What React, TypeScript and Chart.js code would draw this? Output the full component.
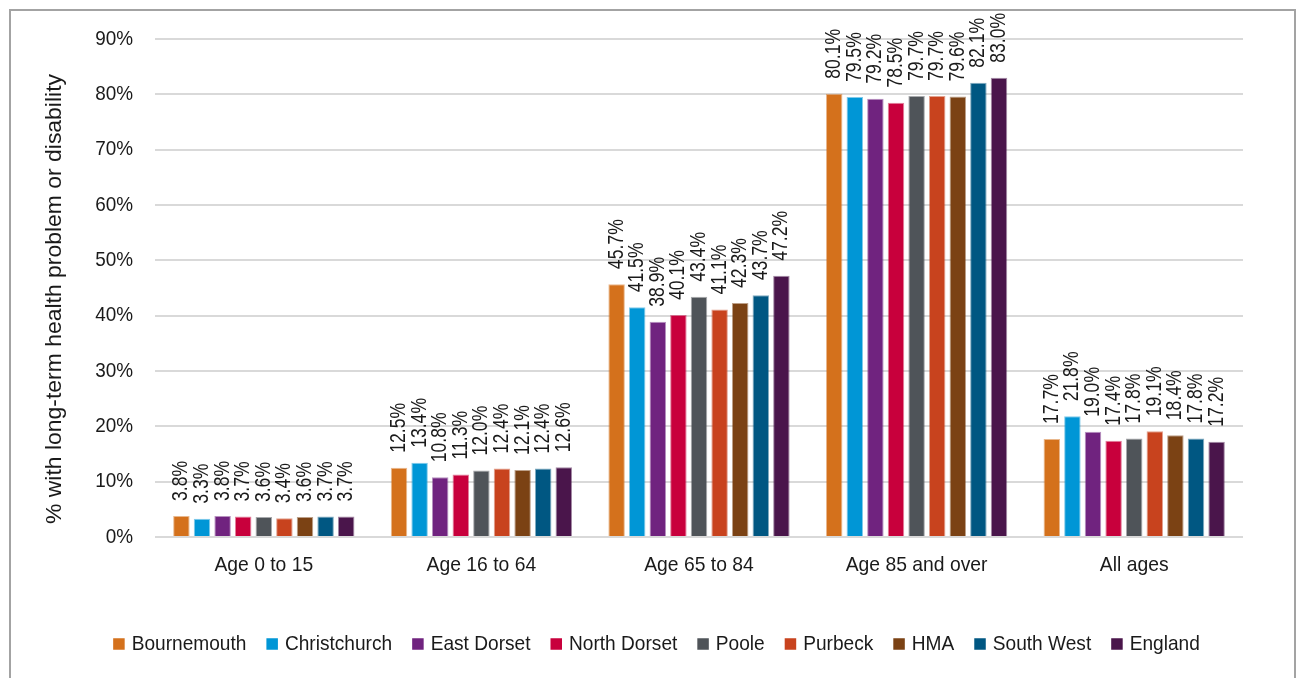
import React, { useEffect, useRef } from "react";
import { Chart, registerables } from "chart.js";

Chart.register(...registerables);

const categories = ["Age 0 to 15", "Age 16 to 64", "Age 65 to 84", "Age 85 and over", "All ages"];
const seriesNames = ["Bournemouth", "Christchurch", "East Dorset", "North Dorset", "Poole", "Purbeck", "HMA", "South West", "England"];
const seriesColors = ["#D4711C", "#0096D6", "#70237F", "#C8003C", "#4F5459", "#C8431E", "#7B4214", "#005782", "#4A154B"];

const bournemouth = [3.8, 12.5, 45.7, 80.1, 17.7];
const christchurch = [3.3, 13.4, 41.5, 79.5, 21.8];
const eastDorset = [3.8, 10.8, 38.9, 79.2, 19.0];
const northDorset = [3.7, 11.3, 40.1, 78.5, 17.4];
const poole = [3.6, 12.0, 43.4, 79.7, 17.8];
const purbeck = [3.4, 12.4, 41.1, 79.7, 19.1];
const hma = [3.6, 12.1, 42.3, 79.6, 18.4];
const southWest = [3.7, 12.4, 43.7, 82.1, 17.8];
const england = [3.7, 12.6, 47.2, 83.0, 17.2];

const seriesValues = [bournemouth, christchurch, eastDorset, northDorset, poole, purbeck, hma, southWest, england];

const yTickValues = [0, 10, 20, 30, 40, 50, 60, 70, 80, 90];
const yTitle = "% with long-term health problem or disability";

const FONT = "'Liberation Sans', Arial, sans-serif";
const TEXT = "#1a1a1a";

function drawText(ctx: any, text: string, x: number, y: number, size: number, align: string, rot: number, sx: number) {
  ctx.save();
  ctx.font = `${size}px ${FONT}`;
  ctx.fillStyle = TEXT;
  ctx.textBaseline = "middle";
  ctx.textAlign = align;
  ctx.translate(x, y);
  if (rot) ctx.rotate(rot);
  ctx.scale(sx, 1);
  ctx.fillText(text, 0, 0);
  ctx.restore();
}

const textPlugin = {
  id: "narrowText",
  afterDatasetsDraw(chart: any) {
    const ctx = chart.ctx;
    const xs = chart.scales.x;
    const ys = chart.scales.y;
    const area = chart.chartArea;

    // data labels
    chart.data.datasets.forEach((ds: any, di: number) => {
      const meta = chart.getDatasetMeta(di);
      meta.data.forEach((bar: any, i: number) => {
        drawText(ctx, ds.data[i].toFixed(1) + "%", bar.x, bar.y - 15, 22, "left", -Math.PI / 2, 0.8);
      });
    });

    // y ticks
    yTickValues.forEach((v) => {
      drawText(ctx, v + "%", area.left - 22, ys.getPixelForValue(v), 21, "right", 0, 0.9);
    });

    // x ticks
    categories.forEach((c, i) => {
      drawText(ctx, c, xs.getPixelForValue(i), area.bottom + 28, 21, "center", 0, 0.92);
    });

    // y title
    ctx.save();
    ctx.font = `22px ${FONT}`;
    const w = ctx.measureText(yTitle).width;
    ctx.restore();
    drawText(ctx, yTitle, 55, 299, 22, "center", -Math.PI / 2, 450 / w);

    // legend
    const LS = 0.91;
    ctx.save();
    ctx.font = `21px ${FONT}`;
    const widths = seriesNames.map((n) => ctx.measureText(n).width * LS);
    ctx.restore();
    const box = 11.5, gapBox = 7, gapItem = 20;
    const total = widths.reduce((a, b) => a + b, 0) + seriesNames.length * (box + gapBox) + (seriesNames.length - 1) * gapItem;
    let x = 656.5 - total / 2;
    const ly = 644;
    seriesNames.forEach((n, i) => {
      ctx.save();
      ctx.fillStyle = seriesColors[i];
      ctx.fillRect(x, ly - box / 2, box, box);
      ctx.restore();
      drawText(ctx, n, x + box + gapBox, ly, 21, "left", 0, LS);
      x += box + gapBox + widths[i] + gapItem;
    });
  },
};

export default function App() {
  const ref = useRef<HTMLCanvasElement>(null);
  useEffect(() => {
    if (!ref.current) return;
    const chart = new Chart(ref.current, {
      type: "bar",
      data: {
        labels: categories,
        datasets: seriesNames.map((name, i) => ({
          label: name,
          data: seriesValues[i],
          backgroundColor: seriesColors[i],
          borderColor: seriesColors[i] + "80",
          borderWidth: 1,
          categoryPercentage: 0.852,
          barPercentage: 0.8,
        })),
      },
      options: {
        responsive: false,
        animation: false,
        devicePixelRatio: 1,
        layout: { padding: { left: 155, right: 57, top: 39, bottom: 141 } },
        plugins: {
          tooltip: { enabled: false },
          legend: { display: false },
        },
        scales: {
          x: {
            grid: { display: false, drawTicks: false },
            border: { display: false },
            ticks: { display: false },
            afterFit: (s: any) => { s.height = 0; },
          },
          y: {
            min: 0,
            max: 90,
            grid: { color: "#d9d9d9", lineWidth: 2, drawTicks: false },
            border: { display: false },
            ticks: { display: false, stepSize: 10 },
            afterFit: (s: any) => { s.width = 0; },
          },
        },
      },
      plugins: [textPlugin],
    });
    return () => chart.destroy();
  }, []);
  return (
    <div>
      <div style={{ position: "absolute", left: 9, top: 9, width: 1283, height: 700, border: "2px solid #a3a3a3", background: "#fff" }} />
      <canvas ref={ref} width={1300} height={678} style={{ position: "absolute", left: 0, top: 0, display: "block" }} />
    </div>
  );
}
